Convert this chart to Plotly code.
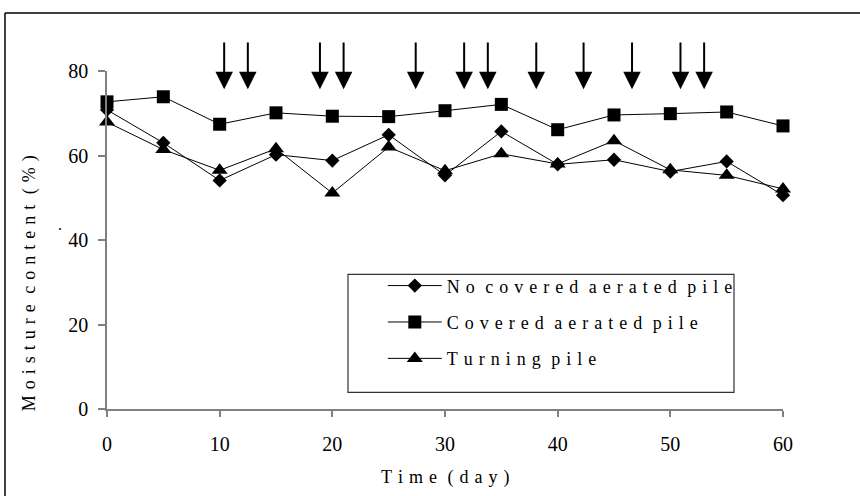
import plotly.graph_objects as go

days = [0, 5, 10, 15, 20, 25, 30, 35, 40, 45, 50, 55, 60]
no_covered = [70.8, 63.0, 54.1, 60.2, 58.8, 64.9, 55.3, 65.7, 57.9, 59.0, 56.2, 58.6, 50.6]
covered = [72.7, 73.9, 67.4, 70.1, 69.3, 69.2, 70.6, 72.1, 66.1, 69.6, 69.9, 70.3, 67.0]
turning = [67.9, 61.4, 56.5, 61.6, 51.1, 62.0, 56.4, 60.4, 58.0, 63.5, 56.6, 55.3, 52.1]

arrow_days = [10.4, 12.5, 18.9, 21.0, 27.4, 31.7, 33.8, 38.1, 42.3, 46.6, 50.9, 53.0]
arrow_top = 87.1
arrow_tip = 75.7

x_ticks = [0, 10, 20, 30, 40, 50, 60]
y_ticks = [0, 20, 40, 60, 80]

names = ["No covered aerated pile", "Covered aerated pile", "Turning pile"]
x_title = "Time (day)"
y_title = "Moisture content (%)"

FONT = "Liberation Serif"
GAP = "\u2004"


def spaced(s):
    return (GAP + " ").join(GAP.join(w) for w in s.split(" "))


fig = go.Figure()
series = [(no_covered, "diamond", 11), (covered, "square", 13), (turning, "triangle-up", 14)]
for name, (vals, sym, size) in zip(names, series):
    fig.add_trace(go.Scatter(
        x=days, y=vals, name=spaced(name), mode="lines+markers",
        line=dict(color="black", width=1),
        marker=dict(symbol=sym, size=size, color="black"),
        cliponaxis=False, legendgroup=name,
    ))

annotations = []
for d in arrow_days:
    annotations.append(dict(
        x=d, y=arrow_tip, ax=d, ay=arrow_top, xref="x", yref="y",
        axref="x", ayref="y", text="", showarrow=True,
        arrowhead=2, arrowsize=1.75, arrowwidth=2, arrowcolor="black", standoff=0,
    ))

annotations.append(dict(
    x=-0.1154, y=0.372, xref="paper", yref="paper", text=spaced(y_title),
    textangle=-90, showarrow=False, xanchor="center", yanchor="middle",
    font=dict(family=FONT, size=18, color="black"),
))
annotations.append(dict(
    x=0.5, y=-0.2018, xref="paper", yref="paper", text=spaced(x_title),
    showarrow=False, xanchor="center", yanchor="middle",
    font=dict(family=FONT, size=18, color="black"),
))
annotations.append(dict(
    x=-0.0695, y=0.545, xref="paper", yref="paper", text=".",
    showarrow=False, xanchor="center", yanchor="middle",
    font=dict(family=FONT, size=16, color="black"),
))

shapes = [
    # outer frame: top and left edges (right and bottom fall outside the picture)
    dict(type="line", xref="paper", yref="paper", x0=-0.1509, x1=1.116, y0=1.1716, y1=1.1716,
         line=dict(color="black", width=1.5), layer="below"),
    dict(type="line", xref="paper", yref="paper", x0=-0.1509, x1=-0.1509, y0=-0.26, y1=1.1716,
         line=dict(color="black", width=1.5), layer="below"),
    # legend box
    dict(type="rect", xref="paper", yref="paper", x0=0.3565, x1=0.9275, y0=0.0494, y1=0.3985,
         line=dict(color="#333333", width=1.2), fillcolor="white", layer="above"),
]

fig.update_layout(
    width=860, height=496,
    margin=dict(l=107, r=77, t=71, b=87),
    paper_bgcolor="white", plot_bgcolor="white",
    font=dict(family=FONT, size=20, color="black"),
    showlegend=True,
    legend=dict(
        x=0.408, y=0.419, xanchor="left", yanchor="top",
        bgcolor="rgba(0,0,0,0)", borderwidth=0,
        font=dict(family=FONT, size=18, color="black"),
        itemwidth=54, tracegroupgap=10, traceorder="grouped",
    ),
    xaxis=dict(
        range=[0, 60], tickvals=x_ticks, ticks="outside", ticklen=6, tickwidth=1.5,
        tickcolor="#808080", showline=True, linecolor="#808080", linewidth=1.5,
        showgrid=False, zeroline=False, ticklabelstandoff=10,
        tickfont=dict(family=FONT, size=20, color="black"),
    ),
    yaxis=dict(
        range=[0, 80], tickvals=y_ticks, ticks="outside", ticklen=7, tickwidth=1.5,
        tickcolor="#808080", showline=True, linecolor="#808080", linewidth=1.5,
        showgrid=False, zeroline=False, ticklabelstandoff=6,
        tickfont=dict(family=FONT, size=20, color="black"),
    ),
    annotations=annotations,
    shapes=shapes,
)

fig.write_html("out.html")
